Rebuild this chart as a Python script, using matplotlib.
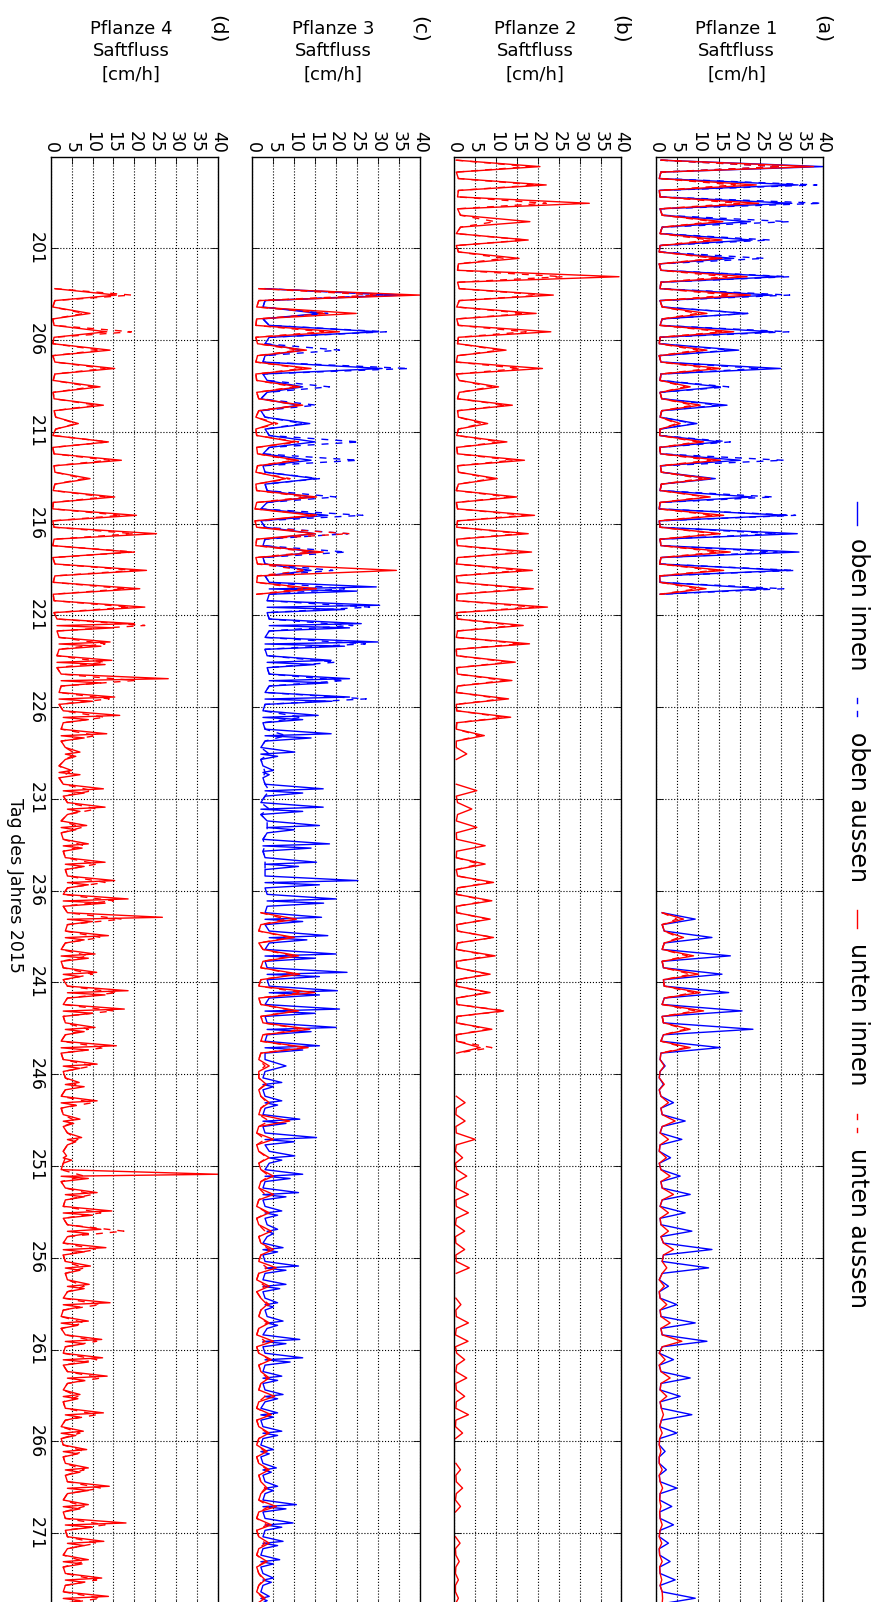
import numpy as np
import matplotlib
matplotlib.use("Agg")
import matplotlib.pyplot as plt
from matplotlib.lines import Line2D

plt.rcParams['font.family'] = ['DejaVu Sans']
N = None

# days of year 196 .. 274 (one entry per day)
tag = list(range(196, 275))
tick_days = list(range(201, 275, 5))
flow_ticks = list(range(0, 41, 5))

# ---------------- Pflanze 1 (a): daily peak values [cm/h]
a_oben_innen = [40, 34, 32.5, 22.6, 23, 18.6, 29.8, 27.8, 21.8, 28,
                19.8, 29.8, 15.4, 17, 9.8, 15.4, 20.2, 14.2, 23, 31.4,
                33.8, 34.2, 31.4, 26.6, N, N, N, N, N, N,
                N, N, N, N, N, N, N, N, N, N,
                N, 9.4, 13.4, 17.8, 15.8, 17.4, 20.6, 23.2, 15.4, 2.2,
                1.8, 4.2, 7, 6.2, 3.5, 5.8, 8.2, 7, 8.6, 13.4,
                12.6, 3, 5, 9.4, 12.2, 4.2, 8.2, 5.8, 8.6, 5,
                2.2, 2.5, 5, 3.8, 4.2, 3, 3.4, 4.6, 9.4]
a_oben_aussen = [30, 38.5, 39.7, 31.8, 27.4, 26, 32, 32, 22, 31.8,
                 18, 25, 17.4, 15, 9, 17.8, 30.6, 13, 28.2, 33.4,
                 29, 29, 33.4, 30.6, N, N, N, N, N, N,
                 N, N, N, N, N, N, N, N, N, N,
                 N, N, N, N, N, N, N, N, N, N,
                 N, N, N, N, N, N, N, N, N, N,
                 N, N, N, N, N, N, N, N, N, N,
                 N, N, N, N, N, N, N, N, N]
a_unten_innen = [37.7, 24, 24.6, 16, 15.8, 15.8, 21.8, 22.6, 12.2, 18.6,
                 12.2, 15.4, 8.2, 10.6, 5.8, 11.4, 15.4, 13, 13, 16.2,
                 15.4, 17.8, 16.2, 12, N, N, N, N, N, N,
                 N, N, N, N, N, N, N, N, N, N,
                 N, 6.6, 6.6, 9, 10.2, 10.6, 11.4, 8.2, 8.2, 2,
                 2, 3, 4.6, 3, 2.5, 3.4, 4.2, 3, 3, 4.2,
                 2.6, 2, 2.6, 3.4, 6.2, 2.2, 3.4, 2.6, 1.8, 1.5,
                 1.2, 1.5, 1.6, 1.2, 1.5, 1.4, 1.5, 1.4, 1.6]
a_unten_aussen = [30, 19, 20, 14, 13, 14, 17, 18, 10, 16,
                  10, 13, 7, 9, 5, 10, 13, 11, 12, 14,
                  14, 15, 14, 10, N, N, N, N, N, N,
                  N, N, N, N, N, N, N, N, N, N,
                  N, 5, 5.5, 7.5, 8.5, 9, 9.5, 7, 7, N,
                  N, N, N, N, N, N, N, N, N, N,
                  N, N, N, N, N, N, N, N, N, N,
                  N, N, N, N, N, N, N, N, N]
a_nacht = [1.2, 0.8, 1.0, 1.5, 1.0, 0.8, 1.2, 1.0, 1.5, 1.0,
           0.8, 1.2, 1.0, 1.4, 1.0, 0.9, 1.1, 1.3, 1.0, 0.8,
           1.0, 1.2, 0.9, 1.0, 1.0, 1.0, 1.0, 1.0, 1.0, 1.0,
           1.0, 1.0, 1.0, 1.0, 1.0, 1.0, 1.0, 1.0, 1.0, 1.0,
           1.5, 1.5, 2.0, 1.5, 1.8, 2.0, 1.5, 1.8, 1.2, 1.0,
           0.8, 1.2, 1.5, 1.0, 0.8, 1.2, 1.5, 1.0, 1.2, 1.8,
           1.5, 0.8, 1.0, 1.2, 1.5, 0.8, 1.2, 1.0, 1.3, 0.9,
           0.8, 0.8, 1.0, 0.9, 1.0, 0.8, 0.9, 1.0, 1.5]

# ---------------- Pflanze 2 (b)
b_unten_innen = [20.5, 22, 32.3, 18.1, 17.7, 15.5, 39.4, 23.7, 19.6, 23.1,
                 12.4, 21.1, 10.6, 13.9, 8, 12.6, 16.8, 10.3, 15, 19.2,
                 17.7, 18.5, 18.7, 18.9, 22.3, 16.5, 18, 14.6, 13.8, 13,
                 13.5, 7.2, 3, N, 5.4, 4.2, 5.4, 7.4, 7.4, 9.4,
                 9, 8.6, 9.4, 9.8, 8.6, 8.6, 11.8, 9, 6.2, N,
                 N, 2.6, 2.6, 5, 2, 3, 3.4, 3.4, 2.5, 2.5,
                 3.6, N, 1.6, 3.4, 3.3, 2.5, 3, 2.5, 3.4, 2,
                 N, 1.5, 2, 1.5, N, 1.4, 1.2, 1, 1]
b_unten_aussen = [18, 19.7, 22, 9.8, 17, 12, 26, 21.5, 17, 17.2,
                  11, 16, 9, 12.5, 6.5, 11, 14, 9, 13, 17,
                  16, 16.5, 16, 17, 19, 14.5, 16, 13, 12, 11.5,
                  12, 6, N, N, N, N, N, N, 6, 8.5,
                  8, 8, 9.4, 8.5, 8, 8, 12.3, 8, 9, N,
                  N, N, N, N, N, N, N, N, N, N,
                  N, N, N, N, N, N, N, N, N, N,
                  N, N, N, N, N, N, N, N, N]
b_nacht = [0.5, 1.0, 0.8, 1.5, 0.5, 1.0, 0.8, 1.2, 0.6, 1.0,
           0.8, 0.5, 1.2, 0.8, 1.0, 0.6, 0.8, 1.0, 0.5, 0.8,
           0.6, 0.8, 0.5, 0.7, 0.6, 0.8, 0.5, 0.6, 0.8, 0.5,
           0.6, 0.5, 0.5, 0.5, 0.5, 0.8, 0.5, 0.6, 0.5, 0.8,
           0.5, 0.6, 0.8, 0.5, 0.6, 0.5, 0.7, 0.5, 0.6, 0.5,
           0.3, 0.5, 0.4, 0.5, 0.3, 0.6, 0.4, 0.5, 0.3, 0.4,
           0.5, 0.3, 0.4, 0.5, 0.3, 0.6, 0.4, 0.5, 0.4, 0.3,
           0.3, 0.4, 0.5, 0.3, 0.4, 0.3, 0.4, 0.3, 0.3]

# ---------------- Pflanze 3 (c)
c_oben_innen = [N, N, N, N, N, N, N, 36, 16, 30.2,
                12, 31, 12, 11, 13.7, 15, 14, 15.3, 14, 18,
                15, 15, 14, 29.6, 30.4, 26, 30, 18.8, 23.2, 23.2,
                15.7, 18.8, 10.1, 5, 16.9, 16.9, 16, 18.4, 15.3, 25.2,
                20, 16.5, 18, 20, 22.6, 20.3, 20.8, 20, 16, 8,
                7, 7, 11.3, 15.3, 10.1, 12, 11, 7, 6, 7.3,
                11, 8, 6, 7.3, 11.3, 12, 7, 7.3, 6, 7,
                5, 5.7, 6, 10.5, 9.7, 7.3, 6.5, 5, 4]
c_oben_innen_2 = [N, N, N, N, N, N, N, N, N, N,
                  N, N, N, N, N, N, N, N, N, N,
                  N, N, N, 25, 22, 23.2, 22, 15, 18, 19,
                  12, 14, 6, 4, 12, 12, 10, 14, 11, 16,
                  17, 12, 13, 15, 16, 16, 15, 14, 12, N,
                  5, 6, 8, 10, 7, 9, 8, 6, 5, 6,
                  8, 6.5, 5, 6, 8, 9, 6, 6, 5, 6,
                  4, 4.5, 5, 8, 7, 6, 5, 4.5, 3.5]
c_oben_aussen = [N, N, N, N, N, N, N, 33, 18, 32,
                 20.8, 37.5, 18.4, 15.3, 12, 25.6, 25.2, 16, 20, 26.4,
                 22.8, 22.4, 19.2, 22, 28, 24, 27, 20, 22, 27.2,
                 12, 8, 4, 3, 4, 4, 3.5, 3, 3, N,
                 N, N, N, N, N, N, N, N, N, N,
                 N, N, N, N, N, N, N, N, N, N,
                 N, N, N, N, N, N, N, N, N, N,
                 N, N, N, N, N, N, N, N, N]
c_unten_innen = [N, N, N, N, N, N, N, 40, 24.8, 20.8,
                 12.9, 14, 11.3, 12, 5, 10.1, 11, 8, 15.3, 14.5,
                 15, 16.9, 34.4, 15.3, N, N, N, N, N, N,
                 N, N, N, N, N, N, N, N, N, N,
                 N, 10.5, 10, 11, 11.3, 14.9, 11, 13.7, 13.3, 4,
                 3.3, 4, 8.9, 5, 4, 5, 5, 4, 4.5, 5,
                 5.7, 4, 3.5, 4, 5, 4.5, 4, 5.3, 4.5, 4,
                 3.5, 4, 3.5, 5.7, 4.5, 4, 3.5, 3, 3]
c_unten_aussen = [N, N, N, N, N, N, N, 30, 18, 17,
                  11, 12, 10, 11, 6, 11, 10, 9, 13, 16,
                  23.2, 14, 13, 12, N, N, N, N, N, N,
                  N, N, N, N, N, N, N, N, N, N,
                  N, 8, 9, 9.5, 10, 12, 10, 12, 12, 3,
                  3, 3.5, 4, 3, 3.5, 4, 3, 3.5, 3, 4,
                  3.5, 3, 4, 3.5, 3, 4, 3.5, 3, 4, 3.5,
                  3, 3.5, 3, 4, 3.5, 3, 3, 2.5, 2.5]
c_nacht_oben = [2, 2, 2, 2, 2, 2, 2, 3, 2.5, 4,
                3, 2.5, 3.5, 2, 3, 4, 2.5, 3, 3.5, 2,
                3, 2.5, 3, 4, 3.5, 4, 3, 3.5, 4, 3,
                2.5, 3, 2, 2.5, 3, 2, 3.5, 2.5, 3, 3,
                3.5, 3, 4, 3, 3.5, 4, 3, 3.5, 3, 3,
                2.5, 3, 2.5, 3, 4, 3, 2.5, 3, 3.5, 2.5,
                3, 2.5, 3, 3.5, 2.5, 3, 2.5, 3, 2, 2.5,
                2, 2.5, 3, 2.5, 3, 2.5, 2, 2.5, 2]
c_nacht_unten = [1, 1, 1, 1, 1, 1, 1, 1.5, 1.0, 0.8,
                 1.2, 0.8, 1.0, 1.5, 0.8, 1.0, 1.2, 0.8, 1.0, 0.6,
                 1.0, 0.8, 1.2, 1.0, 1, 1, 1, 1, 1, 1,
                 1, 1, 1, 1, 1, 1, 1, 1, 1, 1,
                 1, 2, 1.5, 2.5, 2, 1.5, 2, 2.5, 2, 1.5,
                 1.5, 2, 1.5, 1, 1.5, 2, 1.5, 1, 1.5, 2,
                 1.5, 1, 2, 1.5, 1, 1.5, 2, 1.5, 1, 1.5,
                 1, 1.5, 2, 1.5, 1, 1.5, 1, 1.5, 1]

# ---------------- Pflanze 4 (d)
d_unten_innen = [N, N, N, N, N, N, N, 15.7, 9.4, 13.4,
                 14.2, 15.3, 11.8, 12.6, 6.6, 13.8, 16.9, 9.4, 15.3, 20.5,
                 25.3, 19.3, 22.9, 21.3, 22.5, 20, 14.2, 14.6, 28.1, 15.3,
                 16.5, 13.4, 7, 5, 12.6, 13, 8.6, 9, 13, 15.3,
                 18.5, 26.7, 13.8, 10.6, 11, 18.5, 17.6, 10.6, 15.7, 11.1,
                 6.8, 11.1, 7, 7.4, 3.8, 40, 11.1, 14.6, 12, 13.2,
                 9.5, 9.2, 14.2, 9, 12.2, 12.4, 13.5, 7, 12.6, 7.8,
                 8.6, 9, 14, 9, 18, 12.7, 9, 12.2, 13.8]
d_unten_innen_2 = [N, N, N, N, N, N, N, N, N, N,
                   N, N, N, N, N, N, N, N, N, N,
                   N, N, N, N, N, 15, 12, 13, 12, 10,
                   9, 8, 6, 7, 8, 7, 6, 7.5, 8, 9,
                   13, 10, 8, 9, 7, 13, 10, 8, 9, 7,
                   8, 6, 5.5, 6, 5, 9, 8, 10, 9, 8,
                   7, 8, 7, 6.5, 8, 9, 8, 6.5, 7, 6,
                   6.5, 7, 9, 7, 10, 8, 7.5, 8, 7]
d_unten_aussen = [N, N, N, N, N, N, N, 19.3, 8, 19.3,
                  12, 13, 10, 11, 6, 13.8, 14, 8, 13, 17,
                  20, 20, 20, 18, 19, 22.5, 13, 13, 20, 14,
                  13, 11, 6, 4.5, 10, 11, 7.5, 8, 11, 13,
                  15, 17, 12, 9, 10, 16, 15, 9, 13, 10,
                  6, 10, 6, 6.5, 3.5, 8, 10, 12, 17.5, 11,
                  8, 8, 12, 8, 11, 11, 12, 6.5, 11, 7,
                  8, 8, 12, 8, 13, 11, 8, 11, 12]
d_nacht = [0.5, 0.5, 0.5, 0.5, 0.5, 0.5, 0.5, 1.0, 0.5, 0.8,
           0.5, 1.0, 0.6, 0.8, 1.2, 0.5, 0.8, 1.0, 0.6, 0.5,
           0.8, 0.5, 1.0, 0.6, 0.8, 1.5, 2, 1.5, 2.5, 2,
           3, 2.5, 3.5, 2, 3, 4, 2.5, 3, 3.5, 4,
           3, 4, 3.5, 2.5, 3, 4, 3, 3.5, 2.5, 3,
           3.5, 2.5, 3, 4, 3, 2.5, 3.5, 3, 4, 3,
           3.5, 4, 3, 2.5, 3.5, 3, 4, 3, 3.5, 2.5,
           3, 3.5, 4, 3, 3.5, 4, 3, 3.5, 3]

panels = [
    ("(a)", "Pflanze 1", [(a_oben_innen, None, a_nacht, "b", "-"), (a_oben_aussen, None, a_nacht, "b", "--"),
                          (a_unten_innen, None, a_nacht, "r", "-"), (a_unten_aussen, None, a_nacht, "r", "--")]),
    ("(b)", "Pflanze 2", [(b_unten_innen, None, b_nacht, "r", "-"), (b_unten_aussen, None, b_nacht, "r", "--")]),
    ("(c)", "Pflanze 3", [(c_oben_innen, c_oben_innen_2, c_nacht_oben, "b", "-"),
                          (c_oben_aussen, None, c_nacht_oben, "b", "--"),
                          (c_unten_innen, None, c_nacht_unten, "r", "-"),
                          (c_unten_aussen, None, c_nacht_unten, "r", "--")]),
    ("(d)", "Pflanze 4", [(d_unten_innen, d_unten_innen_2, d_nacht, "r", "-"),
                          (d_unten_aussen, None, d_nacht, "r", "--")]),
]


def daily_trace(peaks, second, night):
    t, v = [], []
    for i, (d, p, b) in enumerate(zip(tag, peaks, night)):
        if p is None:
            t.append(np.nan); v.append(np.nan)
            continue
        s = second[i] if second is not None else None
        if s is None:
            t += [d + 0.2, d + 0.55, d + 0.85]
            v += [b, p, b]
        else:
            t += [d + 0.2, d + 0.45, d + 0.56, d + 0.68, d + 0.85]
            v += [b, p, b, s, b]
    return np.array(v, float), np.array(t, float)


W, H = 879, 1602
fig = plt.figure(figsize=(W / 100, H / 100), dpi=100)
fig.patch.set_facecolor("white")

AX_LEFT = [655.9, 454.2, 252.5, 50.7]
AX_W = 167.3
AX_TOP = 156.5
AX_BOT = 1606.5


def fx(px):
    return px / W


def fy(py):
    return 1 - py / H


for k, (lab, name, series) in enumerate(panels):
    left = AX_LEFT[k]
    ax = fig.add_axes([fx(left), fy(AX_BOT), AX_W / W, (AX_BOT - AX_TOP) / H])
    for peaks, second, night, col, ls in series:
        v, t = daily_trace(peaks, second, night)
        if ls == "--":
            ax.plot(v, t, color=col, lw=1.0, dashes=(5, 5))
        else:
            ax.plot(v, t, color=col, lw=1.0)
    ax.set_xlim(0, 40)
    ax.set_ylim(275, 196)
    ax.set_xticks(flow_ticks)
    ax.set_yticks(tick_days)
    ax.tick_params(axis="x", top=True, bottom=True, labeltop=True, labelbottom=False,
                   direction="in", length=5, width=0.6, pad=2.5, labelsize=12.5, labelrotation=-90)
    ax.tick_params(axis="y", left=True, right=True, labelleft=(k == 3), labelright=False,
                   direction="in", length=5, width=0.6, pad=4, labelsize=12.5, labelrotation=-90)
    for t_ in ax.get_yticklabels():
        t_.set_va("center")
    ax.grid(True, color="k", linestyle=":", linewidth=0.8)
    for s in ax.spines.values():
        s.set_linewidth(1.0)
    cx = left + AX_W / 2 - 3
    fig.text(fx(cx), fy(29), name, ha="center", va="center", fontsize=13)
    fig.text(fx(cx), fy(51.5), "Saftfluss", ha="center", va="center", fontsize=13)
    fig.text(fx(cx), fy(75), "[cm/h]", ha="center", va="center", fontsize=13)
    fig.text(fx(left + AX_W - 1), fy(29), lab, ha="center", va="center", rotation=-90, fontsize=14.5)

fig.text(fx(14.5), fy(885), "Tag des Jahres 2015", ha="center", va="center", rotation=-90, fontsize=12.5)

# legend (drawn rotated, reading top-to-bottom)
LX = 857.0
leg = [("oben innen", "b", [(502, 525)], 538),
       ("oben aussen", "b", [(698, 702.5), (711.5, 716)], 732),
       ("unten innen", "r", [(910, 928)], 943),
       ("unten aussen", "r", [(1114, 1118.5), (1127.5, 1132)], 1148)]
for txt, col, segs, ty in leg:
    for y0, y1 in segs:
        fig.add_artist(Line2D([fx(LX), fx(LX)], [fy(y0), fy(y1)], color=col, lw=1.0,
                              transform=fig.transFigure))
    fig.text(fx(LX + 1.5), fy(ty), txt, ha="center", va="top", rotation=-90, fontsize=17)

fig.savefig("out.png", dpi=100, facecolor="white")
